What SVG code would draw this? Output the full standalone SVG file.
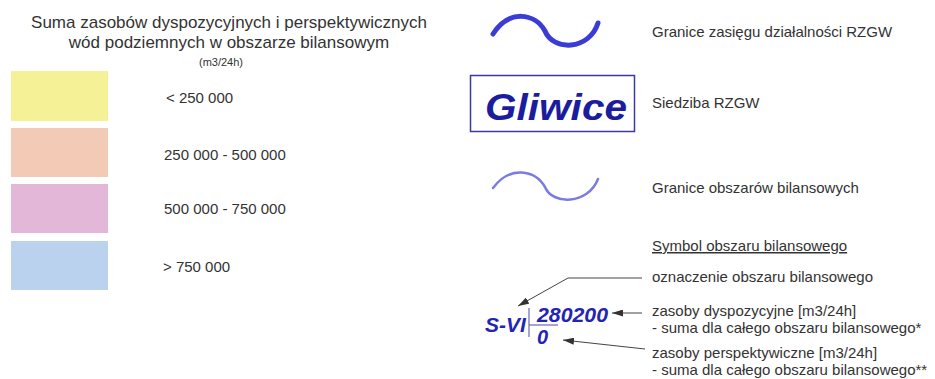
<svg xmlns="http://www.w3.org/2000/svg" width="935" height="379" viewBox="0 0 935 379">
<style>
  .t { font-family: "Liberation Sans", Arial, sans-serif; fill: #333; }
  .lbl { font-size: 15px; }
  .ttl { font-size: 17px; text-anchor: middle; }
  .sym { font-family: "Liberation Sans", Arial, sans-serif; font-weight: bold; font-style: italic; fill: #2424b4; }
  .conn { stroke: #444; stroke-width: 1; fill: none; marker-end: url(#ah); }
</style>
<defs>
  <marker id="ah" markerUnits="userSpaceOnUse" markerWidth="11" markerHeight="7" refX="11" refY="3.5" orient="auto">
    <path d="M0,0 L11,3.5 L0,7 z" fill="#333"/>
  </marker>
</defs>
<rect width="935" height="379" fill="#fff"/>

<g id="title">
  <text class="t ttl" x="229" y="28">Suma zasobów dyspozycyjnych i perspektywicznych</text>
  <text class="t ttl" x="229" y="47.5">wód podziemnych w obszarze bilansowym</text>
  <text class="t" x="221" y="66" font-size="11" text-anchor="middle">(m3/24h)</text>
</g>

<g id="class1">
  <rect x="11" y="71" width="97" height="50" fill="#f4f196"/>
  <text class="t lbl" x="166" y="102.5">&lt; 250 000</text>
</g>
<g id="class2">
  <rect x="11" y="128" width="97" height="49" fill="#f3cab6"/>
  <text class="t lbl" x="164" y="159.5">250 000 - 500 000</text>
</g>
<g id="class3">
  <rect x="11" y="184" width="97" height="49" fill="#e2b7d7"/>
  <text class="t lbl" x="164" y="213.5">500 000 - 750 000</text>
</g>
<g id="class4">
  <rect x="11" y="241" width="97" height="49" fill="#bbd2ee"/>
  <text class="t lbl" x="163" y="272">&gt; 750 000</text>
</g>

<g id="rzgw-boundary">
  <path d="M493,34 C509,9 535,13 545,31 C553,51 589,51 598,23" fill="none" stroke="#3b3bd6" stroke-width="5" stroke-linecap="round"/>
  <text class="t lbl" x="652" y="37">Granice zasięgu działalności RZGW</text>
</g>

<g id="rzgw-seat">
  <rect x="470.5" y="75.5" width="164" height="56" fill="#fff" stroke="#3a3aa2" stroke-width="1.5"/>
  <text x="485" y="120" font-family="'Liberation Sans', Arial, sans-serif" font-weight="bold" font-style="italic" font-size="36" fill="#1c1c9e" textLength="142" lengthAdjust="spacingAndGlyphs">Gliwice</text>
  <text class="t lbl" x="652" y="108">Siedziba RZGW</text>
</g>

<g id="balance-boundary">
  <path d="M493,188 C510,165 535,170 545,187 C552,205 588,205 598,179" fill="none" stroke="#7b7be2" stroke-width="2.5" stroke-linecap="round"/>
  <text class="t lbl" x="652" y="193">Granice obszarów bilansowych</text>
</g>

<g id="symbol-heading">
  <text class="t lbl" x="652" y="251" text-decoration="underline">Symbol obszaru bilansowego</text>
</g>

<g id="symbol">
  <text class="sym" x="485" y="332" font-size="21">S-VI</text>
  <line x1="529" y1="308" x2="529" y2="337" stroke="#6a6ab4" stroke-width="1.2"/>
  <line x1="529" y1="325" x2="558" y2="325" stroke="#6a6ab4" stroke-width="1.2"/>
  <text class="sym" x="537" y="322" font-size="20" textLength="71" lengthAdjust="spacingAndGlyphs">280200</text>
  <text class="sym" x="537" y="344" font-size="20">0</text>
</g>

<g id="desc-label">
  <text class="t lbl" x="652" y="282">oznaczenie obszaru bilansowego</text>
</g>
<g id="desc-disp">
  <text class="t lbl" x="652" y="316">zasoby dyspozycyjne [m3/24h]</text>
  <text class="t lbl" x="652" y="333">- suma dla całego obszaru bilansowego*</text>
</g>
<g id="desc-persp">
  <text class="t lbl" x="652" y="358">zasoby perspektywiczne [m3/24h]</text>
  <text class="t lbl" x="652" y="375">- suma dla całego obszaru bilansowego**</text>
</g>

<g id="connectors">
  <polyline class="conn" points="642,278 568,278 518,306"/>
  <line class="conn" x1="642" y1="313" x2="612" y2="313"/>
  <line class="conn" x1="645" y1="349" x2="563" y2="340"/>
</g>
</svg>
